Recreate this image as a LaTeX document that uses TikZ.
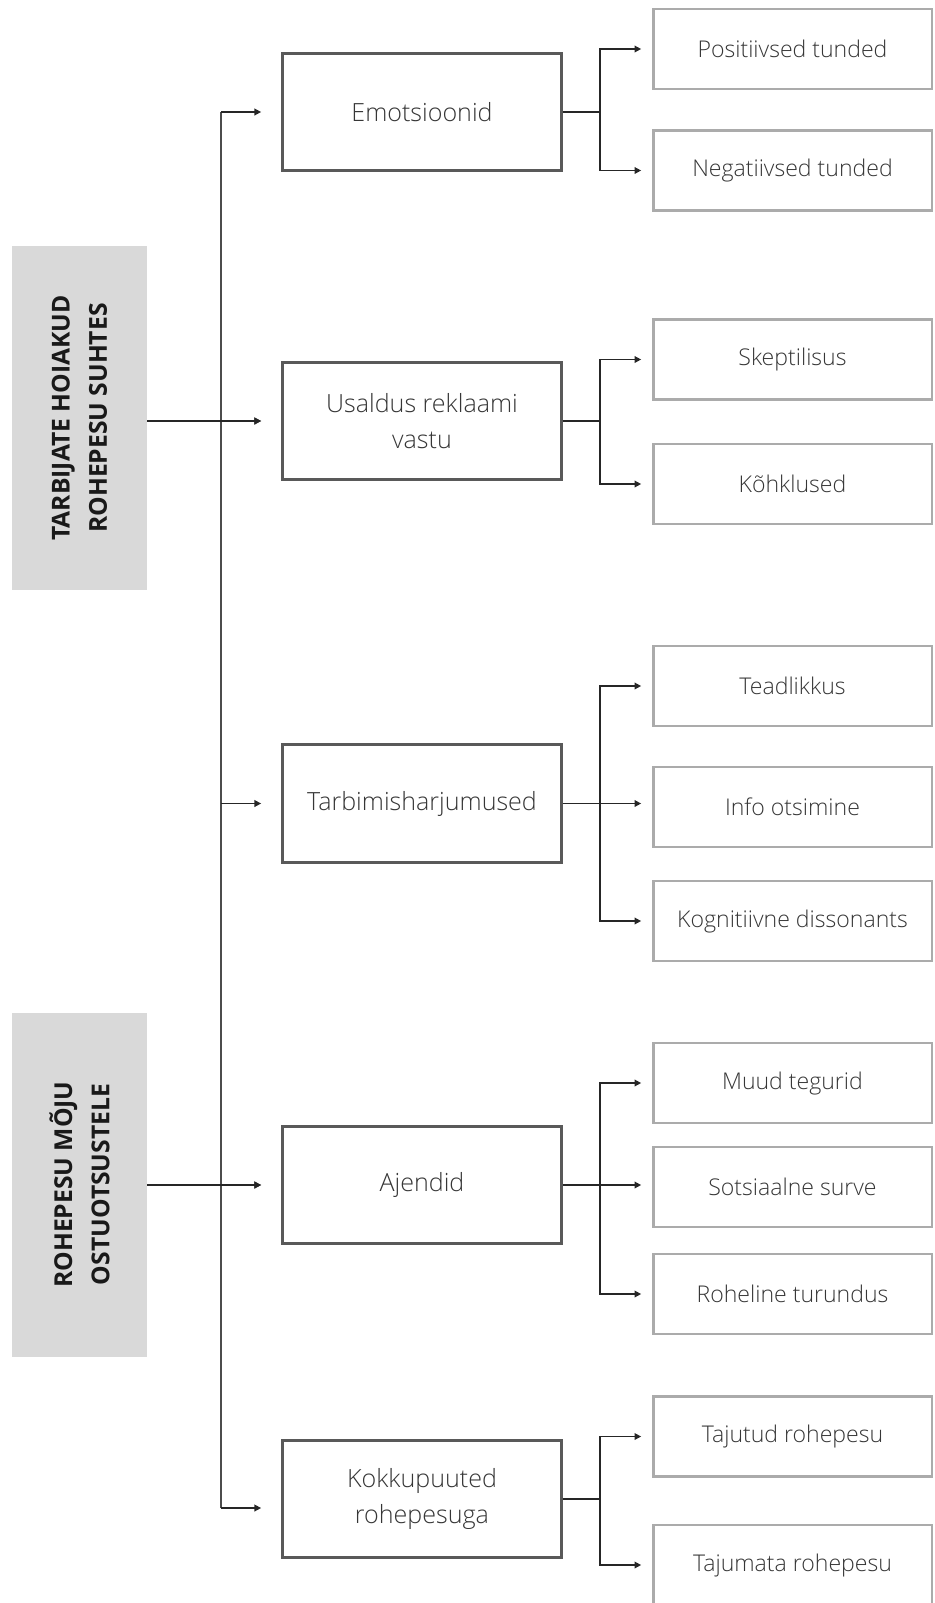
\documentclass[tikz,border=0pt]{standalone}
\usepackage{fontspec}
\setmainfont{Open Sans}
\newfontfamily\lightfont{Open Sans Light}
\usetikzlibrary{arrows.meta}
\definecolor{sidefill}{HTML}{D9D9D9}
\definecolor{mainline}{HTML}{595959}
\definecolor{leafline}{HTML}{ABABAB}
\definecolor{textgray}{HTML}{363636}
\tikzset{
    sidestyle/.style={fill=sidefill, rotate=90, minimum width=258pt, minimum height=101pt, align=center, font=\bfseries\fontsize{18.5}{28}\selectfont, text=black!90},
    mainstyle/.style={draw=mainline, line width=2.3pt, minimum width=209pt, minimum height=88pt, align=center, font=\lightfont\fontsize{18.8}{27}\selectfont, text=textgray},
    leafstyle/.style={draw=leafline, line width=2pt, minimum width=209pt, minimum height=60pt, font=\lightfont\fontsize{17.3}{20}\selectfont, text=textgray},
    linkstyle/.style={line width=1.1pt, black!85},
    arrowstyle/.style={linkstyle, -{Triangle[length=5pt, width=5pt]}}
}

\begin{document}
\begin{tikzpicture}[x=0.75pt, y=-0.75pt]

        \useasboundingbox (0,0) rectangle (935,1603);

        \def\midx{422}
        \def\leafx{792.5}

        % --- left: the two themes ---
        \node[sidestyle] (theme1) at (79.5,418) {TARBIJATE HOIAKUD\\ROHEPESU SUHTES};
        \node[sidestyle] (theme2) at (79.5,1184.5) {ROHEPESU MÕJU\\OSTUOTSUSTELE};

        % --- middle: categories ---
        \node[mainstyle] (emo) at (\midx,112) {Emotsioonid};
        \node[mainstyle] (usa) at (\midx,421) {Usaldus reklaami\\vastu};
        \node[mainstyle] (tarb) at (\midx,803.5) {Tarbimisharjumused};
        \node[mainstyle] (ajen) at (\midx,1185) {Ajendid};
        \node[mainstyle] (kokk) at (\midx,1499) {Kokkupuuted\\rohepesuga};

        % --- right: sub-categories ---
        \node[leafstyle] (pos) at (\leafx,49) {Positiivsed tunded};
        \node[leafstyle] (neg) at (\leafx,170.5) {Negatiivsed tunded};
        \node[leafstyle] (skep) at (\leafx,359.5) {Skeptilisus};
        \node[leafstyle] (kohk) at (\leafx,484) {Kõhklused};
        \node[leafstyle] (tead) at (\leafx,686) {Teadlikkus};
        \node[leafstyle] (info) at (\leafx,807) {Info otsimine};
        \node[leafstyle] (kogn) at (\leafx,921) {Kognitiivne dissonants};
        \node[leafstyle] (muud) at (\leafx,1083) {Muud tegurid};
        \node[leafstyle] (sots) at (\leafx,1187) {Sotsiaalne surve};
        \node[leafstyle] (rohe) at (\leafx,1294) {Roheline turundus};
        \node[leafstyle] (taju) at (\leafx,1436.5) {Tajutud rohepesu};
        \node[leafstyle] (tajm) at (\leafx,1565) {Tajumata rohepesu};

        % --- trunk ---
        \coordinate (trunk) at (221,0);
        \coordinate (kokkin) at ([yshift=-6.75pt]kokk.west);
        \draw[linkstyle, black!70] (trunk |- emo.west) -- (trunk |- kokkin);
        \foreach \m in {emo, usa, tarb, ajen}
            \draw[arrowstyle, shorten >=15pt] (trunk |- \m.west) -- (\m.west);
        \draw[arrowstyle, shorten >=15pt] (trunk |- kokkin) -- (kokkin);

        % themes into the trunk
        \draw[arrowstyle, shorten >=15pt] (theme1.south |- usa.west) -- (usa.west);
        \draw[arrowstyle, shorten >=15pt] (theme2.south |- ajen.west) -- (ajen.west);

        % --- branches ---
        \foreach \m/\a/\b in {emo/pos/neg, usa/skep/kohk, kokk/taju/tajm} {
            \draw[linkstyle] (\m.east) -- ++(37,0) coordinate (\m-fork);
            \draw[arrowstyle, shorten >=8pt] (\m-fork) |- (\a.west);
            \draw[arrowstyle, shorten >=8pt] (\m-fork) |- (\b.west);
        }
        \foreach \m/\a/\b/\c in {tarb/tead/info/kogn, ajen/muud/sots/rohe} {
            \coordinate (\m-fork) at ([xshift=27.75pt]\m.east);
            \draw[arrowstyle, shorten >=8pt] (\m.east) -- (\b.west |- \m.east);
            \draw[arrowstyle, shorten >=8pt] (\m-fork) |- (\a.west);
            \draw[arrowstyle, shorten >=8pt] (\m-fork) |- (\c.west);
        }

\end{tikzpicture}
\end{document}
